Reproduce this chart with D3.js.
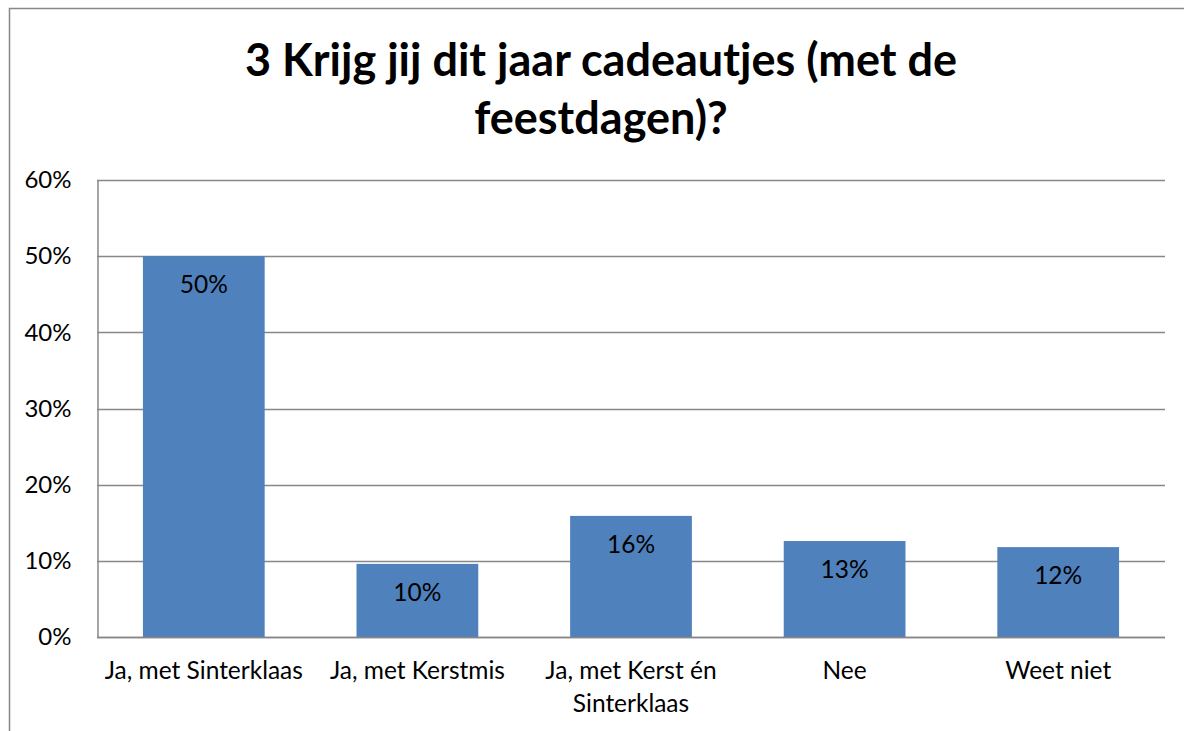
<!DOCTYPE html>
<html>
<head>
<meta charset="utf-8">
<script src="https://cdn.jsdelivr.net/npm/d3@7"></script>
<style>
  body { margin: 0; background: #fff; }
  svg text { font-family: Lato, "Open Sans", sans-serif; fill: #000; }
</style>
</head>
<body>
<script>
// data
const categories = ["Ja, met Sinterklaas", "Ja, met Kerstmis", "Ja, met Kerst én|Sinterklaas", "Nee", "Weet niet"];
const values = [0.50, 0.096, 0.159, 0.126, 0.118];
const valueLabels = ["50%", "10%", "16%", "13%", "12%"];
const yTicks = [0, 0.1, 0.2, 0.3, 0.4, 0.5, 0.6];
const titleLines = ["3 Krijg jij dit jaar cadeautjes (met de", "feestdagen)?"];

const w = 1184, h = 731;
const plotLeft = 97, plotRight = 1165, plotTop = 180, plotBottom = 637;

const svg = d3.select("body").append("svg")
  .attr("width", w)
  .attr("height", h);

// outer chart border
svg.append("rect")
  .attr("x", 9.5).attr("y", 8.5)
  .attr("width", 1200).attr("height", 800)
  .attr("fill", "none")
  .attr("stroke", "#878787")
  .attr("stroke-width", 1.5);

// title
svg.append("g").selectAll("text")
  .data(titleLines)
  .enter().append("text")
  .attr("x", 601)
  .attr("y", (d, i) => 76 + i * 58)
  .attr("text-anchor", "middle")
  .style("font-size", "45px")
  .style("font-weight", "bold")
  .text(d => d);

const xScale = d3.scaleBand()
  .domain(categories)
  .range([plotLeft, plotRight])
  .paddingInner(0.43)
  .paddingOuter(0.215);

const yScale = d3.scaleLinear()
  .domain([0, 0.6])
  .range([plotBottom, plotTop]);

// gridlines
svg.append("g").selectAll("line")
  .data(yTicks)
  .enter().append("line")
  .attr("x1", plotLeft).attr("x2", plotRight)
  .attr("y1", d => Math.round(yScale(d)) + 0.5)
  .attr("y2", d => Math.round(yScale(d)) + 0.5)
  .attr("stroke", "#878787")
  .attr("stroke-width", 1.5);

// y axis
const yAxis = d3.axisLeft(yScale)
  .tickValues(yTicks)
  .tickFormat(d3.format(".0%"))
  .tickSize(0)
  .tickPadding(26);

const yg = svg.append("g")
  .attr("transform", "translate(" + (plotLeft + 0.5) + ",0)")
  .call(yAxis);
yg.select(".domain").attr("stroke", "#878787").attr("stroke-width", 1.5);
yg.selectAll("text")
  .style("font-size", "24px")
  .style("font-family", "Lato, sans-serif");

// bars
svg.selectAll(".bar")
  .data(values)
  .enter().append("rect")
  .attr("class", "bar")
  .attr("x", (d, i) => xScale(categories[i]))
  .attr("width", xScale.bandwidth())
  .attr("y", d => yScale(d))
  .attr("height", d => yScale(0) - yScale(d))
  .attr("fill", "#4f81bd");

// value labels
svg.selectAll(".vlabel")
  .data(values)
  .enter().append("text")
  .attr("class", "vlabel")
  .attr("x", (d, i) => xScale(categories[i]) + xScale.bandwidth() / 2)
  .attr("y", d => yScale(d) + 37)
  .attr("text-anchor", "middle")
  .style("font-size", "24.5px")
  .text((d, i) => valueLabels[i]);

// category labels
const cat = svg.selectAll(".clabel")
  .data(categories)
  .enter().append("text")
  .attr("class", "clabel")
  .attr("text-anchor", "middle")
  .style("font-size", "24.5px");

cat.each(function(d) {
  const parts = d.split("|");
  const x = xScale(d) + xScale.bandwidth() / 2;
  d3.select(this).selectAll("tspan")
    .data(parts)
    .enter().append("tspan")
    .attr("x", x)
    .attr("y", (p, j) => 679 + j * 33)
    .text(p => p);
});

// x axis baseline
svg.append("line")
  .attr("x1", plotLeft).attr("x2", plotRight)
  .attr("y1", plotBottom + 0.5).attr("y2", plotBottom + 0.5)
  .attr("stroke", "#878787")
  .attr("stroke-width", 1.5);
</script>
</body>
</html>
